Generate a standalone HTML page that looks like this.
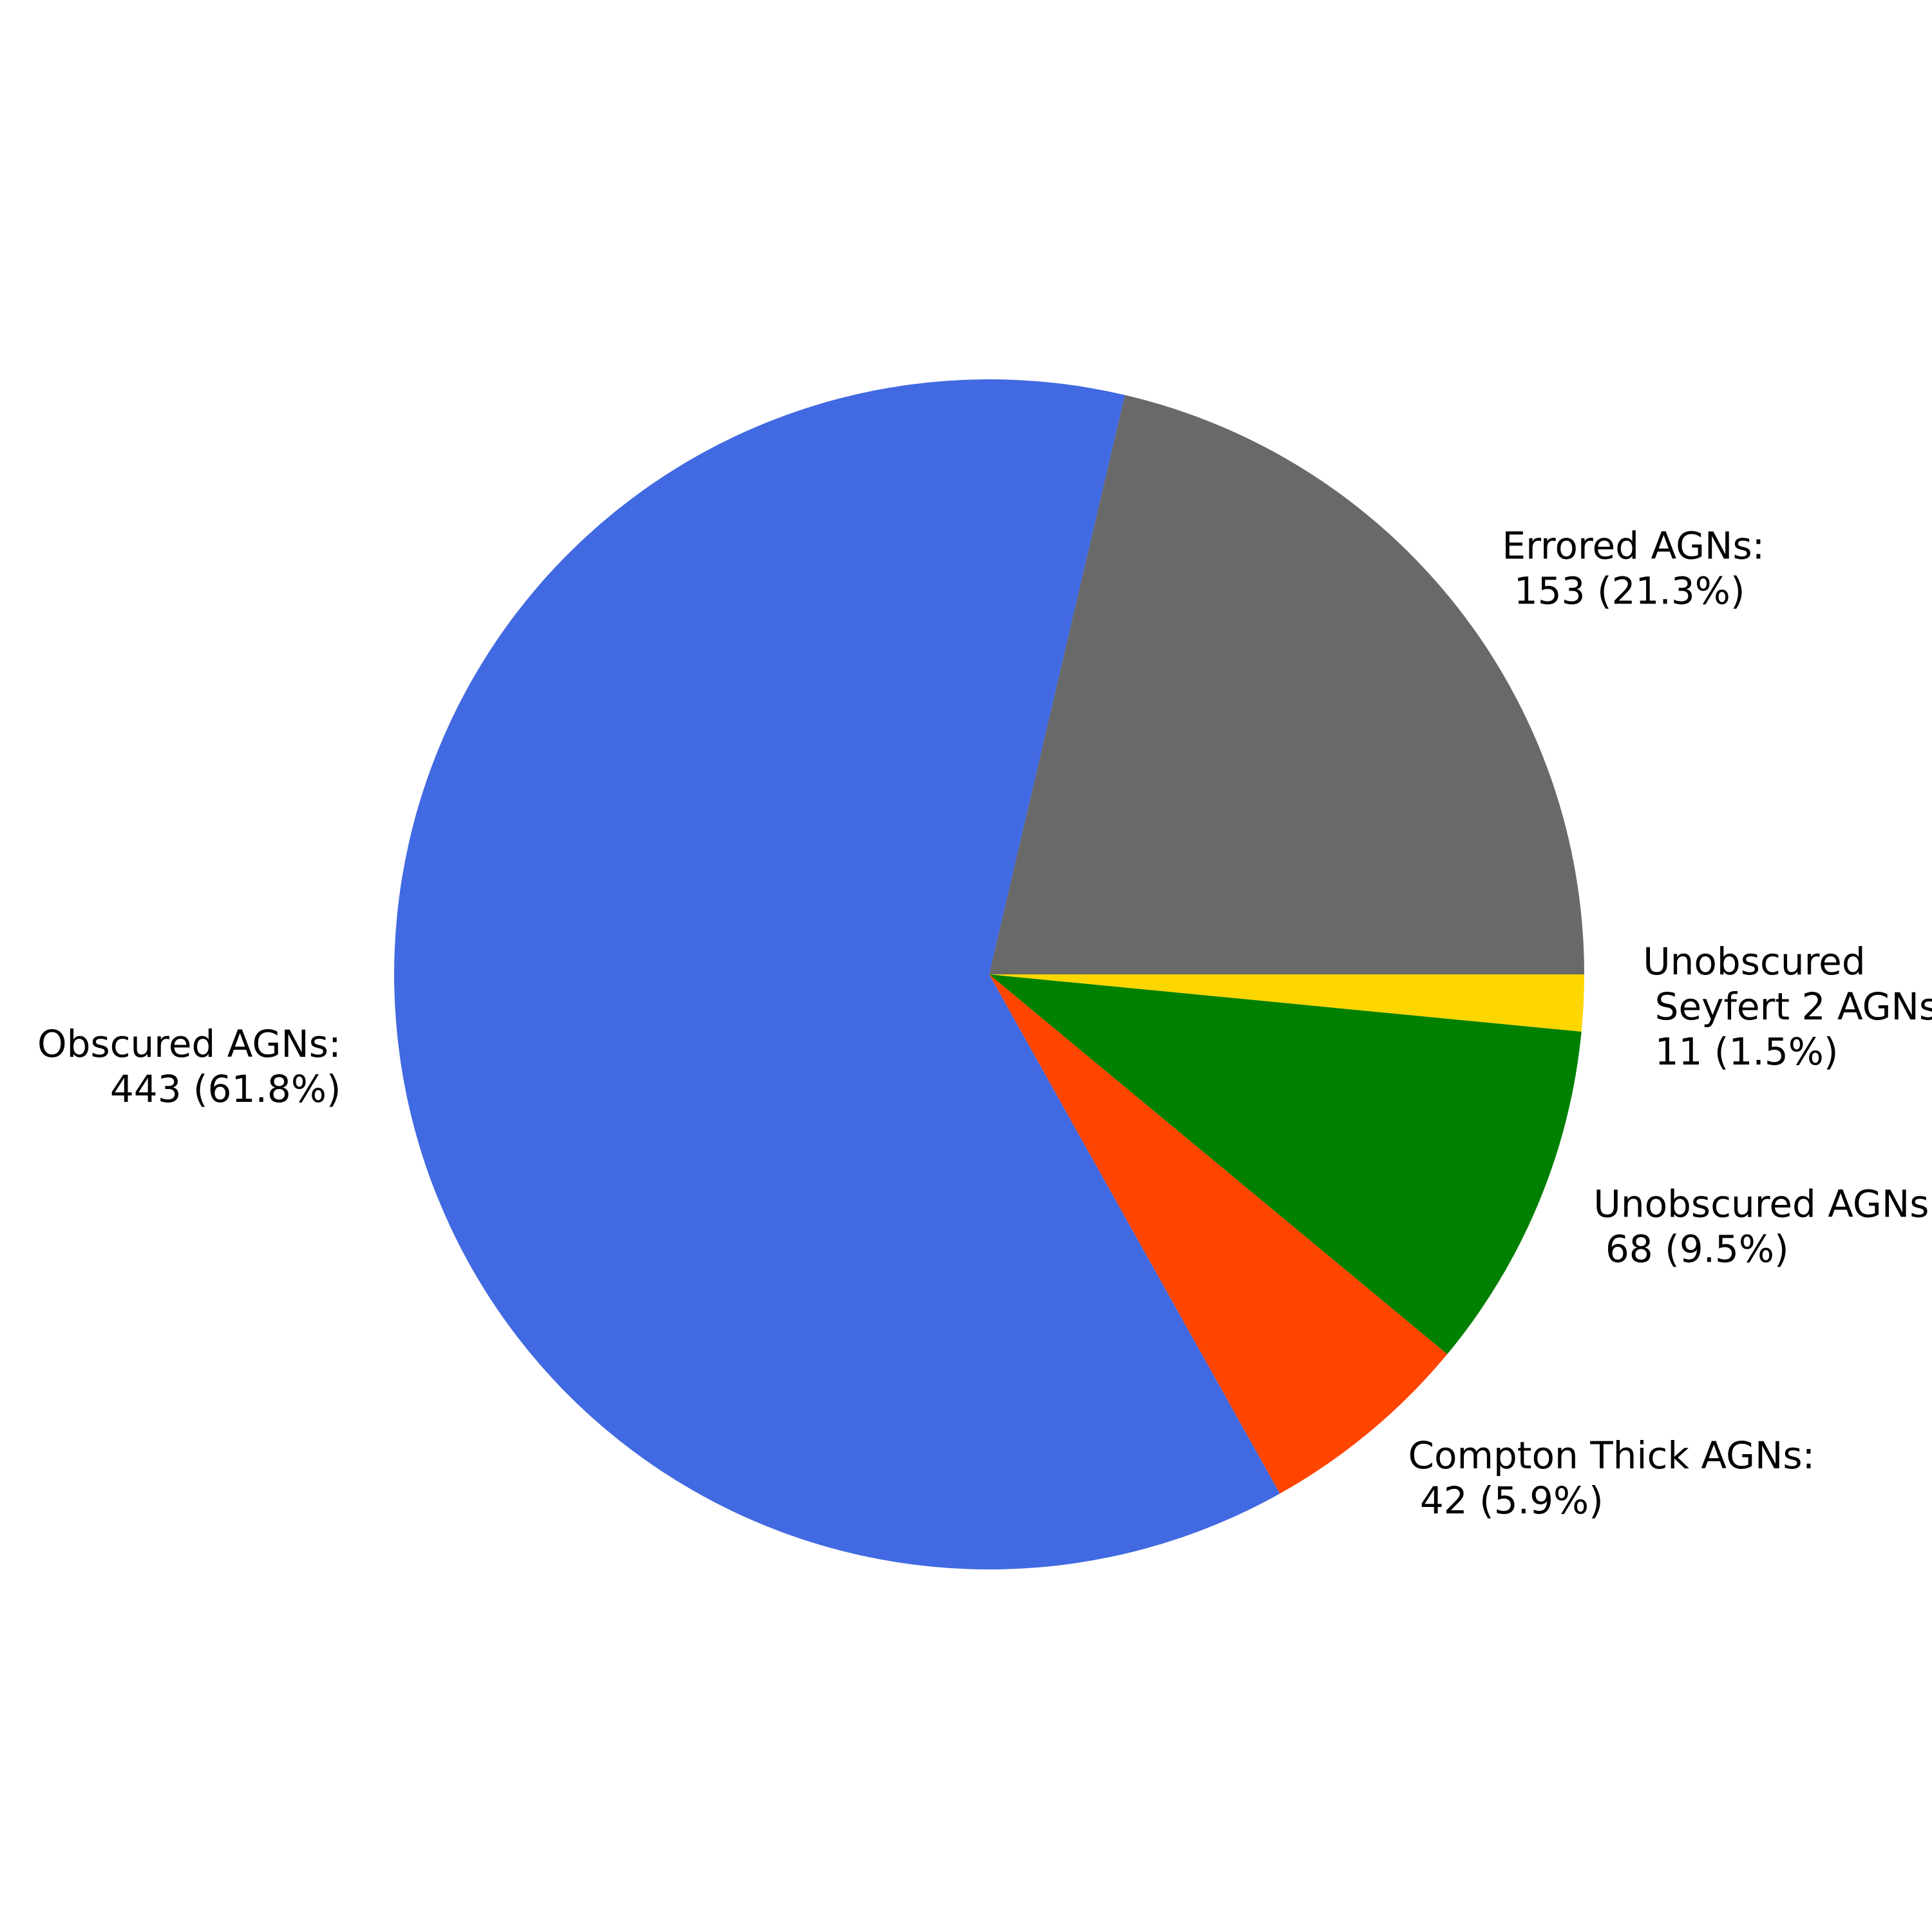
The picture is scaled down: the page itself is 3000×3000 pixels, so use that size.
<!DOCTYPE html>
<html>
<head>
<meta charset="utf-8">
<style>
  html, body { margin: 0; padding: 0; background: #ffffff; }
  svg { display: block; }
  text { font-family: "DejaVu Sans", "Liberation Sans", sans-serif; font-size: 58px; fill: #000; }
</style>
</head>
<body>
<svg id="chart" width="3000" height="3000" viewBox="0 0 3000 3000" xmlns="http://www.w3.org/2000/svg">
  <rect width="3000" height="3000" fill="#ffffff"/>
  <g id="slices"></g>
  <g id="labels"></g>
</svg>
<script>
const categories = ["Errored AGNs:", "Obscured AGNs:", "Compton Thick AGNs:", "Unobscured AGNs:", "Unobscured\n Seyfert 2 AGNs:"];
const values = [153, 443, 42, 68, 11];
const colors = ["#696969", "#4169e1", "#ff4500", "#008000", "#ffd700"];
const sliceNames = ["slice-errored", "slice-obscured", "slice-compton-thick", "slice-unobscured", "slice-unobscured-seyfert2"];

const cx = 1536, cy = 1513, R = 924;
const NS = "http://www.w3.org/2000/svg";
const total = values.reduce((a, b) => a + b, 0);
const gS = document.getElementById("slices");
const gL = document.getElementById("labels");
const lineH = 70;

function pt(angDeg, r) {
  const a = angDeg * Math.PI / 180;
  return [cx + r * Math.cos(a), cy - r * Math.sin(a)];
}

let start = 0;
values.forEach((v, i) => {
  const sweep = v / total * 360;
  const end = start + sweep;
  const [x1, y1] = pt(start, R);
  const [x2, y2] = pt(end, R);
  const large = sweep > 180 ? 1 : 0;
  const p = document.createElementNS(NS, "path");
  p.setAttribute("d", `M${cx},${cy} L${x1},${y1} A${R},${R} 0 ${large} 0 ${x2},${y2} Z`);
  p.setAttribute("fill", colors[i]);
  
  
  gS.appendChild(p);

  const mid = start + sweep / 2;
  const [lx, ly] = pt(mid, R * 1.1);
  const pct = (v / total * 100).toFixed(1);
  const lines = (categories[i] + "\n " + v + " (" + pct + "%)").split("\n");
  const t = document.createElementNS(NS, "text");
  t.setAttribute("text-anchor", lx >= cx ? "start" : "end");
  t.setAttribute("xml:space", "preserve");
  
  
  const n = lines.length;
  lines.forEach((ln, k) => {
    const ts = document.createElementNS(NS, "tspan");
    ts.setAttribute("x", lx);
    ts.setAttribute("y", ly + (k - (n - 1) / 2) * lineH + 21);
    ts.textContent = ln;
    t.appendChild(ts);
  });
  gL.appendChild(t);
  start = end;
});
</script>
</body>
</html>
